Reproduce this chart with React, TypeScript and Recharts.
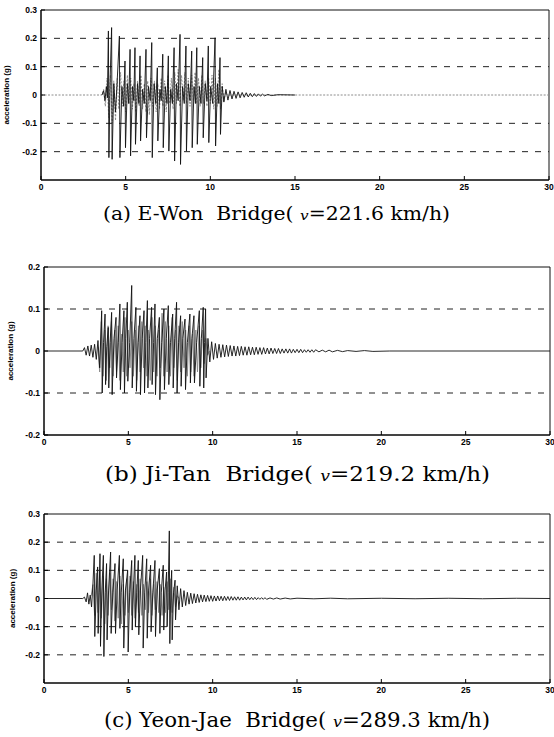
import { LineChart, Line, XAxis, YAxis, ReferenceLine, ReferenceArea } from "recharts";

type Pt = [number, number];

// time axis (s) and acceleration ticks (g)
const TIME_TICKS = [0, 5, 10, 15, 20, 25, 30];
const TICKS_03 = [-0.2, -0.1, 0, 0.1, 0.2, 0.3];
const TICKS_02 = [-0.2, -0.1, 0, 0.1, 0.2];
const GRID_03 = [-0.2, -0.1, 0.1, 0.2];
const GRID_02 = [-0.1, 0.1];

// (a) E-Won Bridge, main (dark) trace
const EWON_DARK: Pt[] = [
  [3.6, 0], [3.7, 0.015], [3.78, -0.02], [3.86, 0.03], [3.92, -0.01],
  [3.98, 0.226], [4.01, -0.221], [4.08, 0.05], [4.17, 0.238], [4.2, -0.227],
  [4.3, 0.04], [4.4, -0.06], [4.5, 0.05], [4.63, 0.208], [4.66, -0.221],
  [4.78, 0.03], [4.88, -0.04], [4.96, 0.12], [4.99, -0.186], [5.1, 0.04],
  [5.18, -0.03], [5.26, 0.161], [5.29, -0.215], [5.4, 0.03], [5.48, -0.02],
  [5.55, 0.167], [5.58, -0.174], [5.7, 0.04], [5.78, -0.03], [5.85, 0.138],
  [5.88, -0.162], [6.0, 0.02], [6.1, -0.03], [6.2, 0.161], [6.23, -0.151],
  [6.35, 0.03], [6.45, -0.02], [6.54, 0.185], [6.57, -0.221], [6.68, 0.04],
  [6.78, -0.03], [6.87, 0.096], [6.9, -0.162], [7.02, 0.02], [7.1, -0.02],
  [7.19, 0.144], [7.22, -0.186], [7.34, 0.03], [7.44, -0.03], [7.52, 0.138],
  [7.55, -0.198], [7.66, 0.02], [7.76, -0.03], [7.86, 0.167], [7.89, -0.233],
  [8.0, 0.04], [8.1, -0.02], [8.21, 0.214], [8.24, -0.245], [8.36, 0.03],
  [8.46, -0.03], [8.56, 0.173], [8.59, -0.198], [8.7, 0.04], [8.8, -0.02],
  [8.9, 0.155], [8.93, -0.186], [9.04, 0.03], [9.12, -0.03], [9.2, 0.167],
  [9.23, -0.174], [9.35, 0.03], [9.45, -0.03], [9.55, 0.132], [9.58, -0.151],
  [9.7, 0.04], [9.8, -0.02], [9.88, 0.173], [9.91, -0.168], [10.02, 0.03],
  [10.14, -0.03], [10.28, 0.202], [10.31, -0.18], [10.42, 0.04], [10.5, -0.03],
  [10.57, 0.132], [10.6, -0.139], [10.7, 0.03], [10.8, -0.025],
  [10.92, 0.02], [11.04, -0.018], [11.16, 0.016], [11.28, -0.014], [11.4, 0.013],
  [11.52, -0.012], [11.64, 0.011], [11.76, -0.01], [11.88, 0.009], [12.0, -0.008],
  [12.12, 0.008], [12.24, -0.007], [12.36, 0.006], [12.48, -0.006], [12.6, 0.005],
  [12.72, -0.005], [12.84, 0.004], [12.96, -0.004], [13.08, 0.003], [13.2, -0.003],
  [13.4, 0.002], [13.6, -0.002], [14.0, 0.001], [15.0, 0],
];

// (a) E-Won Bridge, light trace
const EWON_LIGHT: Pt[] = [
  [0, 0], [3.6, 0], [3.7, 0.02], [3.8, -0.04], [3.9, 0.06], [4.0, -0.08],
  [4.1, 0.07], [4.2, -0.1], [4.3, 0.05], [4.4, -0.09], [4.5, 0.06], [4.6, -0.05],
  [4.7, 0.08], [4.8, -0.04], [4.9, 0.05], [5.0, -0.06], [5.1, 0.07], [5.2, -0.03],
  [5.3, 0.06], [5.4, -0.05], [5.5, 0.04], [5.6, -0.06], [5.7, 0.05], [5.8, -0.04],
  [5.9, 0.07], [6.0, -0.05], [6.1, 0.04], [6.2, -0.06], [6.3, 0.05], [6.4, -0.07],
  [6.5, 0.06], [6.6, -0.04], [6.7, 0.05], [6.8, -0.06], [6.9, 0.04], [7.0, -0.05],
  [7.1, 0.06], [7.2, -0.04], [7.3, 0.05], [7.4, -0.06], [7.5, 0.07], [7.6, -0.03],
  [7.7, 0.06], [7.8, -0.05], [7.9, 0.08], [8.0, -0.03], [8.1, 0.09], [8.2, -0.04],
  [8.3, 0.07], [8.4, -0.02], [8.5, 0.08], [8.6, -0.03], [8.7, 0.06], [8.8, -0.04],
  [8.9, 0.07], [9.0, -0.02], [9.1, 0.08], [9.2, -0.03], [9.3, 0.06], [9.4, -0.04],
  [9.5, 0.07], [9.6, -0.03], [9.7, 0.05], [9.8, -0.04], [9.9, 0.06], [10.0, -0.03],
  [10.1, 0.07], [10.2, -0.05], [10.3, 0.06], [10.4, -0.04], [10.5, 0.09], [10.6, -0.05],
  [10.7, 0.04], [10.8, -0.02], [10.9, 0.01], [11.0, 0], [30, 0],
];

// (b) Ji-Tan Bridge, main trace
const JITAN_DARK: Pt[] = [
  [0, 0], [2.3, 0], [2.4, 0.008], [2.5, -0.01], [2.6, 0.012], [2.7, -0.012],
  [2.8, 0.014], [2.9, -0.015], [3.0, 0.016], [3.1, -0.02], [3.2, 0.025], [3.3, -0.04],
  [3.42, 0.096], [3.45, -0.1], [3.53, 0.02], [3.62, 0.088], [3.65, -0.08], [3.72, 0.01],
  [3.81, 0.056], [3.84, -0.088], [3.92, 0.02], [4.01, 0.092], [4.04, -0.104], [4.15, 0.03],
  [4.27, 0.08], [4.3, -0.064], [4.4, 0.02], [4.5, 0.112], [4.53, -0.092], [4.63, 0.02],
  [4.74, 0.096], [4.77, -0.1], [4.85, 0.03], [4.94, 0.116], [4.97, -0.072], [5.08, 0.02],
  [5.2, 0.156], [5.23, -0.088], [5.33, 0.03], [5.45, 0.104], [5.48, -0.096], [5.58, 0.02],
  [5.69, 0.084], [5.72, -0.104], [5.82, 0.03], [5.93, 0.096], [5.96, -0.1], [6.04, 0.02],
  [6.13, 0.12], [6.16, -0.088], [6.26, 0.03], [6.38, 0.104], [6.41, -0.08], [6.5, 0.02],
  [6.58, 0.112], [6.61, -0.104], [6.72, 0.03], [6.84, 0.08], [6.87, -0.116], [6.98, 0.02],
  [7.11, 0.1], [7.14, -0.092], [7.25, 0.03], [7.37, 0.108], [7.4, -0.08], [7.5, 0.02],
  [7.63, 0.088], [7.66, -0.088], [7.75, 0.03], [7.86, 0.116], [7.89, -0.1], [7.98, 0.02],
  [8.1, 0.084], [8.13, -0.084], [8.23, 0.03], [8.36, 0.076], [8.39, -0.092], [8.5, 0.02],
  [8.65, 0.088], [8.68, -0.076], [8.77, 0.03], [8.89, 0.084], [8.92, -0.076], [9.05, 0.02],
  [9.21, 0.096], [9.24, -0.084], [9.33, 0.03], [9.44, 0.104], [9.47, -0.088], [9.52, 0.02],
  [9.58, 0.1], [9.61, -0.064],
  [9.72, 0.03], [9.83, -0.026], [9.94, 0.022], [10.05, -0.02], [10.16, 0.018], [10.27, -0.017],
  [10.38, 0.016], [10.49, -0.015], [10.6, 0.015], [10.71, -0.014], [10.82, 0.014], [10.93, -0.013],
  [11.04, 0.013], [11.15, -0.012], [11.26, 0.012], [11.37, -0.012], [11.48, 0.011], [11.59, -0.011],
  [11.7, 0.011], [11.81, -0.01], [11.92, 0.01], [12.03, -0.01], [12.14, 0.01], [12.25, -0.009],
  [12.36, 0.009], [12.47, -0.009], [12.58, 0.009], [12.69, -0.008], [12.8, 0.008], [12.91, -0.008],
  [13.02, 0.008], [13.13, -0.007], [13.24, 0.007], [13.35, -0.007], [13.46, 0.007], [13.57, -0.006],
  [13.68, 0.006], [13.79, -0.006], [13.9, 0.006], [14.01, -0.006], [14.12, 0.005], [14.23, -0.005],
  [14.34, 0.005], [14.45, -0.005], [14.56, 0.005], [14.67, -0.005], [14.78, 0.004], [14.89, -0.004],
  [15.0, 0.004], [15.11, -0.004], [15.22, 0.004], [15.33, -0.004], [15.44, 0.003], [15.55, -0.003],
  [15.66, 0.003], [15.77, -0.003], [15.88, 0.003], [15.99, -0.003], [16.1, 0.003], [16.3, -0.002],
  [16.5, 0.002], [16.7, -0.002], [16.9, 0.002], [17.1, -0.002], [17.4, 0.0015], [17.7, -0.0015],
  [18.0, 0.001], [18.5, -0.001], [19.0, 0.001], [19.5, -0.001], [20.5, 0], [30, 0],
];

// (b) Ji-Tan Bridge, light trace
const JITAN_LIGHT: Pt[] = [
  [3.2, 0.01], [3.3, -0.05], [3.4, 0.07], [3.5, -0.06], [3.6, 0.05], [3.7, -0.07],
  [3.8, 0.06], [3.9, -0.04], [4.0, 0.07], [4.1, -0.06], [4.2, 0.05], [4.3, -0.05],
  [4.4, 0.06], [4.5, -0.07], [4.6, 0.04], [4.7, -0.05], [4.8, 0.08], [4.9, -0.06],
  [5.0, 0.05], [5.1, -0.04], [5.2, 0.07], [5.3, -0.06], [5.4, 0.05], [5.5, -0.07],
  [5.6, 0.06], [5.7, -0.05], [5.8, 0.07], [5.9, -0.04], [6.0, 0.06], [6.1, -0.06],
  [6.2, 0.05], [6.3, -0.07], [6.4, 0.08], [6.5, -0.05], [6.6, 0.06], [6.7, -0.06],
  [6.8, 0.05], [6.9, -0.04], [7.0, 0.09], [7.1, -0.06], [7.2, 0.07], [7.3, -0.05],
  [7.4, 0.06], [7.5, -0.06], [7.6, 0.08], [7.7, -0.04], [7.8, 0.05], [7.9, -0.07],
  [8.0, 0.06], [8.1, -0.05], [8.2, 0.07], [8.3, -0.04], [8.4, 0.05], [8.5, -0.06],
  [8.6, 0.06], [8.7, -0.05], [8.8, 0.04], [8.9, -0.06], [9.0, 0.05], [9.1, -0.05],
  [9.2, 0.06], [9.3, -0.04], [9.4, 0.05], [9.5, -0.03], [9.6, 0.03], [9.7, -0.01], [9.8, 0],
];

// (c) Yeon-Jae Bridge, main trace
const YEONJAE_DARK: Pt[] = [
  [0, 0], [2.3, 0], [2.4, 0.005], [2.5, -0.012], [2.58, 0.02], [2.66, -0.02],
  [2.74, 0.012], [2.82, -0.03], [2.9, 0.05],
  [2.98, 0.153], [3.01, -0.135], [3.1, 0.03], [3.18, 0.112], [3.21, -0.124], [3.27, 0.02],
  [3.32, 0.159], [3.35, -0.17], [3.43, 0.03], [3.52, 0.153], [3.55, -0.206], [3.63, 0.02],
  [3.71, 0.124], [3.74, -0.147], [3.83, 0.03], [3.95, 0.165], [3.98, -0.124], [4.08, 0.02],
  [4.21, 0.124], [4.24, -0.124], [4.34, 0.03], [4.47, 0.153], [4.5, -0.106], [4.58, 0.02],
  [4.7, 0.141], [4.73, -0.176], [4.83, 0.03], [4.96, 0.1], [4.99, -0.19], [5.08, 0.02],
  [5.2, 0.135], [5.23, -0.112], [5.3, 0.03], [5.39, 0.153], [5.42, -0.1], [5.5, 0.02],
  [5.59, 0.135], [5.62, -0.129], [5.72, 0.03], [5.85, 0.153], [5.88, -0.176], [5.97, 0.02],
  [6.09, 0.141], [6.12, -0.141], [6.2, 0.03], [6.32, 0.118], [6.35, -0.118], [6.45, 0.02],
  [6.58, 0.135], [6.61, -0.135], [6.71, 0.03], [6.84, 0.106], [6.87, -0.124], [6.95, 0.02],
  [7.07, 0.118], [7.1, -0.112], [7.18, 0.03], [7.27, 0.094], [7.3, -0.1], [7.36, 0.02],
  [7.43, 0.24], [7.46, -0.16], [7.52, 0.03], [7.57, 0.1], [7.6, -0.147], [7.68, 0.02],
  [7.77, 0.065], [7.8, -0.076],
  [7.9, 0.045], [8.0, -0.04], [8.1, 0.035], [8.2, -0.03], [8.3, 0.028], [8.4, -0.025],
  [8.5, 0.022], [8.6, -0.02], [8.7, 0.019], [8.8, -0.018], [8.9, 0.017], [9.0, -0.016],
  [9.1, 0.015], [9.2, -0.014], [9.3, 0.013], [9.4, -0.012], [9.5, 0.012], [9.6, -0.011],
  [9.7, 0.011], [9.8, -0.01], [9.9, 0.01], [10.0, -0.01], [10.1, 0.009], [10.2, -0.009],
  [10.3, 0.009], [10.4, -0.008], [10.5, 0.008], [10.6, -0.008], [10.7, 0.008], [10.8, -0.007],
  [10.9, 0.007], [11.0, -0.007], [11.1, 0.007], [11.2, -0.006], [11.3, 0.006], [11.4, -0.006],
  [11.5, 0.006], [11.6, -0.006], [11.7, 0.005], [11.8, -0.005], [11.9, 0.005], [12.0, -0.005],
  [12.1, 0.005], [12.2, -0.004], [12.3, 0.004], [12.4, -0.004], [12.5, 0.004], [12.6, -0.004],
  [12.7, 0.003], [12.8, -0.003], [12.9, 0.003], [13.0, -0.003], [13.1, 0.003], [13.2, -0.003],
  [13.4, 0.002], [13.6, -0.002], [13.8, 0.002], [14.0, -0.002], [14.3, 0.0015], [14.6, -0.0015],
  [15, 0.001], [16, -0.001], [17, 0.001], [18, -0.001], [20, 0.0008], [22, -0.0008],
  [24, 0.0008], [26, -0.0008], [28, 0.0008], [30, 0],
];

// (c) Yeon-Jae Bridge, light trace
const YEONJAE_LIGHT: Pt[] = [
  [2.8, 0.01], [2.9, 0.05], [3.0, -0.06], [3.1, 0.09], [3.2, -0.05], [3.3, 0.1],
  [3.4, -0.07], [3.5, 0.08], [3.6, -0.09], [3.7, 0.07], [3.8, -0.06], [3.9, 0.09],
  [4.0, -0.04], [4.1, 0.07], [4.2, -0.08], [4.3, 0.06], [4.4, -0.07], [4.5, 0.08],
  [4.6, -0.09], [4.7, 0.05], [4.8, -0.06], [4.9, 0.07], [5.0, -0.05], [5.1, 0.08],
  [5.2, -0.06], [5.3, 0.06], [5.4, -0.07], [5.5, 0.05], [5.6, -0.05], [5.7, 0.07],
  [5.8, -0.06], [5.9, 0.05], [6.0, -0.04], [6.1, 0.06], [6.2, -0.05], [6.3, 0.07],
  [6.4, -0.06], [6.5, 0.05], [6.6, -0.04], [6.7, 0.06], [6.8, -0.05], [6.9, 0.05],
  [7.0, -0.06], [7.1, 0.04], [7.2, -0.05], [7.3, 0.06], [7.4, -0.04], [7.5, 0.07],
  [7.6, -0.05], [7.7, 0.04], [7.8, -0.03], [7.9, 0.01], [8.0, 0],
];

const CAPTION_NAMES = ["(a) E-Won  Bridge( ", "(b) Ji-Tan  Bridge( ", "(c) Yeon-Jae  Bridge( "];
const CAPTION_SPEEDS = ["=221.6 km/h)", "=219.2 km/h)", "=289.3 km/h)"];

const axisFont = {
  fontFamily: "'Liberation Sans', Arial, sans-serif",
  fontWeight: 700,
  fontSize: 8.5,
  fill: "#000",
};

const toRows = (pts: Pt[]) => pts.map(([t, a]) => ({ t, a }));
const fmt = (v: number) => (v === 0 ? "0" : v.toFixed(1));

function Panel({
  top,
  height,
  yWidth,
  right,
  yMax,
  yTicks,
  grid,
  dark,
  light,
  lightDashed,
  labelOffset,
}: {
  top: number;
  height: number;
  yWidth: number;
  right: number;
  yMax: number;
  yTicks: number[];
  grid: number[];
  dark: Pt[];
  light: Pt[];
  lightDashed?: boolean;
  labelOffset: number;
}) {
  return (
    <div style={{ position: "absolute", left: 0, top }}>
      <LineChart
        width={554}
        height={height}
        margin={{ top: 10, right, bottom: 0, left: 0 }}
      >
        <XAxis
          type="number"
          dataKey="t"
          domain={[0, 30]}
          ticks={TIME_TICKS}
          interval={0}
          allowDataOverflow
          height={20}
          tickSize={-4}
          tickMargin={8}
          tick={axisFont}
          stroke="#000"
        />
        <YAxis
          type="number"
          domain={[-yMax, yMax]}
          ticks={yTicks}
          interval={0}
          allowDataOverflow
          width={yWidth}
          tickSize={-4}
          tickMargin={8}
          tick={axisFont}
          tickFormatter={fmt}
          stroke="#000"
          label={{
            value: "acceleration (g)",
            angle: -90,
            position: "insideLeft",
            offset: labelOffset,
            style: { ...axisFont, fontSize: 8, textAnchor: "middle" },
          }}
        />
        {grid.map((g) => (
          <ReferenceLine
            key={g}
            y={g}
            stroke="#222"
            strokeWidth={1}
            strokeDasharray="6 7"
          />
        ))}
        <ReferenceArea
          x1={0}
          x2={30}
          y1={-yMax}
          y2={yMax}
          fill="none"
          stroke="#111"
          strokeWidth={1}
        />
        <Line
          data={toRows(light)}
          dataKey="a"
          type="linear"
          stroke="#8c8c8c"
          strokeWidth={1}
          strokeDasharray={lightDashed ? "2 1.5" : undefined}
          dot={false}
          isAnimationActive={false}
        />
        <Line
          data={toRows(dark)}
          dataKey="a"
          type="linear"
          stroke="#111"
          strokeWidth={0.9}
          dot={false}
          isAnimationActive={false}
        />
      </LineChart>
    </div>
  );
}

const CAPTION_POS = [
  { x: 103, y: 220, len: 347, size: 18 },
  { x: 105, y: 481, len: 385, size: 19.5 },
  { x: 104, y: 727, len: 386, size: 19.5 },
];

export default function App() {
  return (
    <div
      style={{
        position: "absolute",
        left: 0,
        top: 0,
        width: 554,
        height: 737,
        background: "#fff",
        overflow: "hidden",
      }}
    >
      <Panel
        top={0}
        height={200}
        yWidth={41}
        right={5}
        yMax={0.3}
        yTicks={TICKS_03}
        grid={GRID_03}
        dark={EWON_DARK}
        light={EWON_LIGHT}
        lightDashed
        labelOffset={6}
      />
      <Panel
        top={257}
        height={198}
        yWidth={44}
        right={4}
        yMax={0.2}
        yTicks={TICKS_02}
        grid={GRID_02}
        dark={JITAN_DARK}
        light={JITAN_LIGHT}
        labelOffset={10}
      />
      <Panel
        top={504}
        height={199}
        yWidth={44}
        right={4}
        yMax={0.3}
        yTicks={TICKS_03}
        grid={GRID_03}
        dark={YEONJAE_DARK}
        light={YEONJAE_LIGHT}
        labelOffset={12}
      />
      <svg
        width={554}
        height={737}
        style={{ position: "absolute", left: 0, top: 0, pointerEvents: "none" }}
      >
        {CAPTION_NAMES.map((name, i) => {
          const p = CAPTION_POS[i];
          return (
            <text
              key={name}
              x={p.x}
              y={p.y}
              textLength={p.len}
              lengthAdjust="spacingAndGlyphs"
              style={{
                fontFamily: "'DejaVu Serif', serif",
                fontSize: p.size,
                fill: "#000",
                whiteSpace: "pre",
              }}
            >
              {name}
              <tspan fontStyle="italic" fontSize={p.size * 0.75}>
                v
              </tspan>
              {CAPTION_SPEEDS[i]}
            </text>
          );
        })}
      </svg>
    </div>
  );
}
